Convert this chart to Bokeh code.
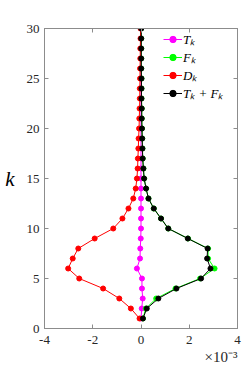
from bokeh.plotting import figure
from bokeh.models import Range1d, FixedTicker, LinearAxis, Legend, LegendItem, Title
from bokeh.embed import file_html
from bokeh.resources import INLINE

# ---- data (x values in units of 1e-3) ----
k = list(range(1, 31))
T_k = [0.00, 0.03, 0.07, 0.04, 0.04, -0.17, -0.04, -0.03, -0.01, 0.00,
       0.00, 0.00, 0.00, 0.00, 0.00, 0.00, 0.00, 0.00, 0.00, 0.00,
       0.00, 0.00, 0.00, 0.00, 0.00, 0.00, 0.00, 0.00, 0.00, 0.00]
F_k = [0.08, 0.20, 0.63, 1.43, 2.45, 3.05, 2.78, 2.78, 1.95, 1.13,
       0.83, 0.53, 0.31, 0.21, 0.13, 0.10, 0.07, 0.06, 0.05, 0.04,
       0.03, 0.03, 0.02, 0.02, 0.02, 0.01, 0.01, 0.01, 0.01, 0.01]
D_k = [-0.06, -0.42, -0.90, -1.57, -2.56, -3.02, -2.83, -2.60, -1.92, -1.15,
       -0.77, -0.52, -0.32, -0.22, -0.17, -0.14, -0.13, -0.11, -0.10, -0.08,
       -0.07, -0.06, -0.05, -0.05, -0.04, -0.04, -0.03, -0.03, -0.02, -0.02]
TF_k = [0.08, 0.24, 0.72, 1.47, 2.49, 2.88, 2.74, 2.76, 1.94, 1.13,
        0.83, 0.53, 0.31, 0.21, 0.13, 0.10, 0.07, 0.06, 0.05, 0.04,
        0.03, 0.03, 0.02, 0.02, 0.02, 0.01, 0.01, 0.01, 0.01, 0.01]

series_labels = ["Tₖ", "Fₖ", "Dₖ", "Tₖ + Fₖ"]
series_colors = ["#ff00ff", "#00ff00", "#ff0000", "#000000"]

x_ticks = [-4, -2, 0, 2, 4]
x_tick_labels = ["-4", "-2", "0", "2", "4"]
y_ticks = [0, 5, 10, 15, 20, 25, 30]
y_tick_labels = ["0", "5", "10", "15", "20", "25", "30"]
x_scale_text = "×10⁻³"

FRAME = "#8c8c8c"
TXT = "#262626"
SERIF = "Liberation Serif"

p = figure(width=249, height=374, output_backend="svg", toolbar_location=None,
           x_range=Range1d(-4, 4), y_range=Range1d(0, 30),
           min_border_left=44, min_border_right=12, min_border_top=28,
           min_border_bottom=46)
p.xgrid.visible = False
p.ygrid.visible = False
p.outline_line_color = FRAME
p.outline_line_width = 1
p.background_fill_color = "white"
p.border_fill_color = "white"


def style_axis(ax, ticks, labels, show_labels):
    ax.ticker = FixedTicker(ticks=ticks)
    ax.major_label_overrides = {t: l for t, l in zip(ticks, labels)}
    ax.axis_line_color = FRAME
    ax.major_tick_line_color = FRAME
    ax.major_tick_in = 4
    ax.major_tick_out = 0
    ax.minor_tick_line_color = None
    ax.major_label_text_font = SERIF
    ax.major_label_text_color = TXT
    if show_labels:
        ax.major_label_text_font_size = "13px"
        ax.major_label_standoff = 5
    else:
        ax.major_label_text_font_size = "1px"
        ax.major_label_text_color = None
        ax.major_label_standoff = 0


style_axis(p.xaxis[0], x_ticks, x_tick_labels, True)
style_axis(p.yaxis[0], y_ticks, y_tick_labels, True)
p.xaxis[0].major_label_standoff = 7

ax_top = LinearAxis()
style_axis(ax_top, x_ticks, x_tick_labels, False)
p.add_layout(ax_top, "above")
ax_right = LinearAxis()
style_axis(ax_right, y_ticks, y_tick_labels, False)
p.add_layout(ax_right, "right")

# invisible spacer axis to push the exponent text down
ax_spacer = LinearAxis()
style_axis(ax_spacer, x_ticks, x_tick_labels, False)
ax_spacer.axis_line_color = None
ax_spacer.major_tick_line_color = None
ax_spacer.major_tick_in = 0
ax_spacer.major_label_standoff = 8
p.add_layout(ax_spacer, "below")

ya = p.yaxis[0]
ya.axis_label = "k"
ya.axis_label_text_font = SERIF
ya.axis_label_text_font_style = "italic"
ya.axis_label_text_font_size = "21px"
ya.axis_label_text_color = "#000000"
ya.axis_label_orientation = "horizontal"
ya.axis_label_standoff = 9

items = []
for xs, lab, col in zip([T_k, F_k, D_k, TF_k], series_labels, series_colors):
    r1 = p.line(xs, k, line_color=col, line_width=1)
    r2 = p.scatter(xs, k, size=5, fill_color=col, line_color=col)
    items.append(LegendItem(label=lab, renderers=[r1, r2]))

legend = Legend(items=items, location=(119, 226))
legend.border_line_color = None
legend.background_fill_alpha = 0
legend.padding = 0
legend.spacing = 0
legend.margin = 0
legend.glyph_width = 19
legend.glyph_height = 16
legend.label_height = 16
legend.label_standoff = 1
legend.label_text_font = SERIF
legend.label_text_font_style = "italic"
legend.label_text_font_size = "13px"
legend.label_text_color = "#000000"
p.add_layout(legend)

p.add_layout(Title(text=x_scale_text, align="right", standoff=0,
                   vertical_align="bottom",
                   text_font=SERIF, text_font_size="15px",
                   text_font_style="normal", text_color=TXT), "below")

open("out.html", "w").write(file_html(p, INLINE))
